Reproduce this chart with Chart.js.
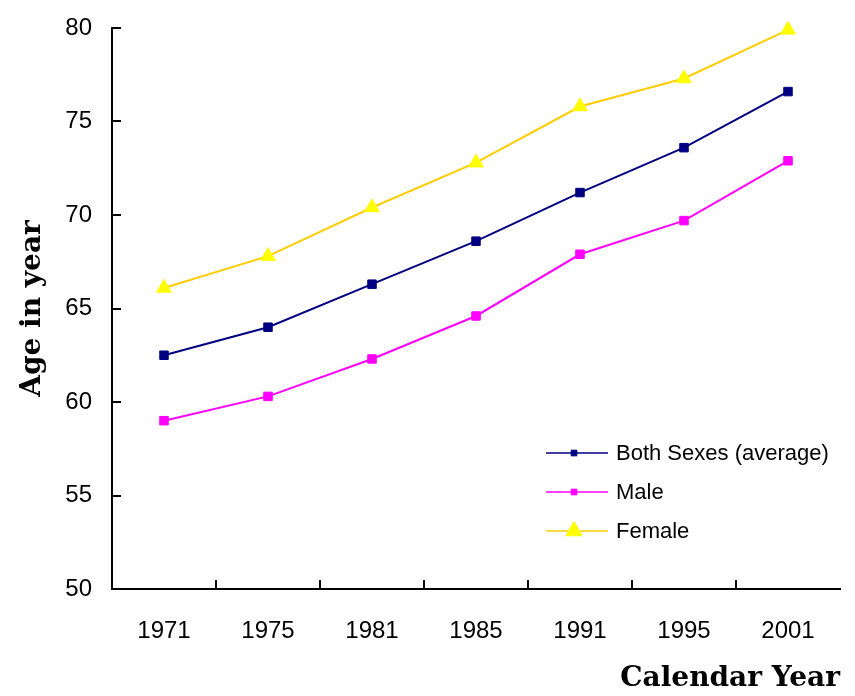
<!DOCTYPE html>
<html>
<head>
<meta charset="utf-8">
<title>Life expectancy by calendar year</title>
<script src="https://cdn.jsdelivr.net/npm/chart.js@4.4.1/dist/chart.umd.min.js"></script>
<style>
  html, body { margin: 0; padding: 0; background: #ffffff; }
  #wrap { width: 855px; height: 696px; }
</style>
</head>
<body>
<div id="wrap"><canvas id="chart" width="855" height="696"></canvas></div>
<script>
// Census years on the horizontal axis
const years = ['1971', '1975', '1981', '1985', '1991', '1995', '2001'];

// Life expectancy (years)
const bothSexes = [62.5, 64.0, 66.3, 68.6, 71.2, 73.6, 76.6];
const male      = [59.0, 60.3, 62.3, 64.6, 67.9, 69.7, 72.9];
const female    = [66.1, 67.8, 70.4, 72.8, 75.8, 77.3, 79.9];

// Series names
const seriesNames = ['Both Sexes (average)', 'Male', 'Female'];

// Vertical axis range
const yMin = 50, yMax = 80, yStep = 5;

const sansFamily = '"Liberation Sans", Arial, sans-serif';
const tickFont = { family: sansFamily, size: 24 };
const legendFont = `22px ${sansFamily}`;
const titleFont = { family: '"DejaVu Serif", serif', size: 28, weight: 'bold' };

// Short tick marks pointing into the plot area
const innerTicks = {
  id: 'innerTicks',
  afterDraw(chart) {
    const { ctx, chartArea, scales } = chart;
    const len = 9;
    ctx.save();
    ctx.strokeStyle = '#000000';
    ctx.lineWidth = 2;
    ctx.beginPath();
    scales.y.ticks.forEach(t => {
      const y = Math.round(scales.y.getPixelForValue(t.value));
      ctx.moveTo(chartArea.left, y);
      ctx.lineTo(chartArea.left + len, y);
    });
    for (let i = 1; i < years.length; i++) {
      const x = Math.round((scales.x.getPixelForValue(i - 1) + scales.x.getPixelForValue(i)) / 2);
      ctx.moveTo(x, chartArea.bottom);
      ctx.lineTo(x, chartArea.bottom - len);
    }
    ctx.stroke();
    ctx.restore();
  }
};

// Legend drawn inside the lower-right part of the plot
const insideLegend = {
  id: 'insideLegend',
  afterDraw(chart) {
    const { ctx, chartArea } = chart;
    const x0 = chartArea.left + 434;
    const lineLen = 62;
    const y0 = chartArea.top + 425;
    const rowGap = 39;
    ctx.save();
    ctx.font = legendFont;
    ctx.textBaseline = 'middle';
    ctx.textAlign = 'left';
    chart.data.datasets.forEach((ds, i) => {
      const y = y0 + i * rowGap;
      ctx.strokeStyle = ds.borderColor;
      ctx.lineWidth = 1.5;
      ctx.beginPath();
      ctx.moveTo(x0, y);
      ctx.lineTo(x0 + lineLen, y);
      ctx.stroke();
      ctx.fillStyle = ds.pointBackgroundColor;
      ctx.strokeStyle = ds.pointBorderColor;
      ctx.lineWidth = 1;
      Chart.helpers.drawPoint(ctx, {
        pointStyle: ds.pointStyle,
        rotation: 0,
        radius: ds.pointStyle === 'triangle' ? ds.pointRadius + 1 : ds.pointRadius - 2,
        borderWidth: 1
      }, x0 + lineLen / 2 - 3, y);
      ctx.fillStyle = '#000000';
      ctx.fillText(ds.label, x0 + lineLen + 8, y + 1);
    });
    ctx.restore();
  }
};

const lineStyle = (label, data, line, fill, style, radius) => ({
  label,
  data,
  borderColor: line,
  backgroundColor: fill,
  borderWidth: 2,
  pointStyle: style,
  pointRadius: radius,
  pointHoverRadius: radius,
  pointBackgroundColor: fill,
  pointBorderColor: fill,
  pointBorderWidth: 1,
  tension: 0,
  clip: false
});

new Chart(document.getElementById('chart'), {
  type: 'line',
  data: {
    labels: years,
    datasets: [
      lineStyle(seriesNames[0], bothSexes, '#000080', '#000080', 'rect', 6),
      lineStyle(seriesNames[1], male, '#FF00FF', '#FF00FF', 'rect', 6),
      lineStyle(seriesNames[2], female, '#FFCC00', '#FFFF00', 'triangle', 8.5)
    ]
  },
  options: {
    responsive: false,
    animation: false,
    layout: { autoPadding: false, padding: { top: 28, right: 15, left: 0, bottom: 0 } },
    plugins: {
      legend: { display: false },
      tooltip: { enabled: false }
    },
    scales: {
      x: {
        offset: true,
        grid: { display: false, drawTicks: false },
        border: { display: true, color: '#000000', width: 2 },
        ticks: { color: '#000000', font: tickFont, padding: 28, maxRotation: 0 },
        title: {
          display: true,
          text: 'Calendar Year',
          align: 'end',
          color: '#000000',
          font: titleFont,
          padding: { top: 10, bottom: 0 }
        },
        afterFit(scale) {
          scale.height = 107;
          scale.paddingLeft = 0;
          scale.paddingRight = 0;
        }
      },
      y: {
        min: yMin,
        max: yMax,
        grid: { display: false, drawTicks: false },
        border: { display: true, color: '#000000', width: 2 },
        ticks: { stepSize: yStep, color: '#000000', font: tickFont, padding: 20 },
        title: {
          display: true,
          text: 'Age in year',
          color: '#000000',
          font: titleFont,
          padding: { top: 16, bottom: 0 }
        },
        afterFit(scale) {
          scale.width = 112;
          scale.paddingTop = 0;
          scale.paddingBottom = 0;
        }
      }
    }
  },
  plugins: [innerTicks, insideLegend]
});
</script>
</body>
</html>
